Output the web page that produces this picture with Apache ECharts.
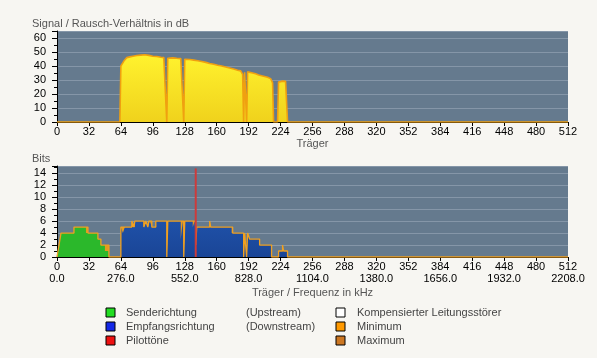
<!DOCTYPE html>
<html><head><meta charset="utf-8">
<script src="https://cdn.jsdelivr.net/npm/echarts@6/dist/echarts.min.js"></script>
<style>html,body{margin:0;padding:0;background:#f7f6f2;}#c{width:597px;height:358px;}</style>
</head><body><div id="c"></div>
<script>
// ---- Data ----
const carrierTicks = [0,32,64,96,128,160,192,224,256,288,320,352,384,416,448,480,512];
const freqTicks = ['0.0','','276.0','','552.0','','828.0','','1104.0','','1380.0','','1656.0','','1932.0','','2208.0'];

// SNR (dB) per carrier
const snrCarriers = [0,63,64,65,67,70,73,76,80,84,88,92,96,100,104,107,108,109,110,111,112,116,120,124,125,126,127,128,129,133,137,141,145,149,153,157,161,165,169,173,177,181,184,185,186,187,188,189,190,191,192,193,196,199,202,205,208,211,213,214,215,216,217,221,222,223,226,229,230,231,512];
const snrValues   = [0,0,40,41,43.5,46,46.5,47,47.5,47.8,48,47.6,47,46.8,46.3,46,45.8,45.5,0,45.5,45.8,45.8,45.5,45.3,45.2,45,0,44.8,45,44.6,44.2,43.8,43.2,42.6,41.8,41.2,40.5,40,39.3,38.6,37.8,37,36.5,36,34,0,35.5,35.5,0,35.8,36,35.6,35,34.4,33.6,33,32.5,32,31.5,31,29.5,28,0,0,28.5,29,29.2,29,28.5,0,0];

// Bits: upstream (current), value holds from carrier to next listed carrier
const usCarriers = [0,1,2,3,4,17,29,41,44,48,52];
const usBits     = [0,1,2,3,4,5,4,3,2,1,0];

// Bits: downstream (current)
const dsCarriers = [64,66,68,78,87,89,91,93,95,99,110,111,124,126,127,128,136,138,139,140,175,187,188,190,191,193,203,215,222,231];
const dsBits     = [5,4,5,6,5,6,5,6,5,6,0,6,3,6,0,6,5,6,2,5,4,0,4,0,4,3,2,0,1,0];

// Bits: maximum
const maxCarriers = [0,1,2,3,4,17,31,41,44,52,64,75,77,78,87,89,91,92,95,99,110,111,127,128,139,140,153,154,176,187,188,190,191,193,203,215,222,226,227,231,512];
const maxBits     = [0,1,2,3,4,5,4,3,2,0,5,6,5,6,5,6,5,6,5,6,0,6,0,6,2,5,6,5,4,0,4,0,4,3,2,0,1,2,1,0,0];

// Pilot tone
const pilotCarriers = [139,139];
const pilotBits     = [0,14.8];

const zip = (a,b) => a.map((v,i)=>[v,b[i]]);

// ---- Chart ----
const FONT = "'Liberation Sans', Arial, sans-serif";
const chart = echarts.init(document.getElementById('c'));
const plotBg = '#657a8e';
const gridLine = '#8596a8';

function xAxis(grid, two) {
  return {
    type:'value', gridIndex:grid, min:0, max:512, interval:32,
    name: two ? 'Träger / Frequenz in kHz' : 'Träger',
    nameLocation:'middle', nameGap: two ? 30 : 15,
    nameTextStyle:{color:'#555', fontSize:11, fontFamily:FONT, verticalAlign:'top'},
    axisLine:{show:true, onZero:false, lineStyle:{color:'#000', width:1}},
    axisTick:{show:true, length:4, lineStyle:{color:'#000'}},
    axisLabel:{color:'#000', fontSize:11, fontFamily:FONT, margin:4, lineHeight:12,
      formatter: v => { const i = carrierTicks.indexOf(v); return two ? (v + '\n' + (i>=0?freqTicks[i]:'')) : String(v); }},
    splitLine:{show:false}
  };
}
function yAxis(grid, max, interval) {
  return {
    type:'value', gridIndex:grid, min:0, max:max, interval:interval,
    axisLine:{show:true, lineStyle:{color:'#000', width:1}},
    axisTick:{show:true, length:5, lineStyle:{color:'#000'}},
    minorTick:{show:true, splitNumber:2, length:3, lineStyle:{color:'#000'}},
    axisLabel:{color:'#000', fontSize:11, fontFamily:FONT, margin:11, showMaxLabel:false},
    splitLine:{show:true, lineStyle:{color:gridLine, width:1}}
  };
}

const legendRows = [312.5, 326.5, 340.5];
function sq(x, y, color) {
  return {type:'rect', shape:{x:x, y:y-4.5, width:9, height:9}, style:{fill:color, stroke:'#000', lineWidth:1}};
}
function txt(x, y, t) {
  return {type:'text', x:x, y:y, style:{text:t, fill:'#444', font:'11px ' + FONT, textVerticalAlign:'middle'}};
}

chart.setOption({
  animation:false,
  backgroundColor:'#f7f6f2',
  grid:[
    {left:57, top:31, width:511, height:91, show:true, backgroundColor:plotBg, borderWidth:0},
    {left:57, top:166, width:511, height:91, show:true, backgroundColor:plotBg, borderWidth:0}
  ],
  xAxis:[xAxis(0,false), xAxis(1,true)],
  yAxis:[yAxis(0,65,10), yAxis(1,15.2,2)],
  graphic:[
    {type:'text', left:32, top:18, style:{text:'Signal / Rausch-Verhältnis in dB', fill:'#555', font:'11px ' + FONT}},
    {type:'text', left:32, top:153, style:{text:'Bits', fill:'#555', font:'11px ' + FONT}},
    sq(106, legendRows[0], '#22dd22'), txt(126, legendRows[0], 'Senderichtung'), txt(246, legendRows[0], '(Upstream)'),
    sq(106, legendRows[1], '#1428e6'), txt(126, legendRows[1], 'Empfangsrichtung'), txt(246, legendRows[1], '(Downstream)'),
    sq(106, legendRows[2], '#ee1111'), txt(126, legendRows[2], 'Pilottöne'),
    sq(336, legendRows[0], '#ffffff'), txt(357, legendRows[0], 'Kompensierter Leitungsstörer'),
    sq(336, legendRows[1], '#ff9900'), txt(357, legendRows[1], 'Minimum'),
    sq(336, legendRows[2], '#cc7722'), txt(357, legendRows[2], 'Maximum')
  ],
  series:[
    {type:'line', xAxisIndex:0, yAxisIndex:0, data:zip(snrCarriers, snrValues), showSymbol:false,
      lineStyle:{color:'#f0a010', width:1.6},
      areaStyle:{opacity:1, color:new echarts.graphic.LinearGradient(0,0,0,1,[{offset:0,color:'#fff22e'},{offset:1,color:'#f0d21c'}])}},
    {type:'line', xAxisIndex:1, yAxisIndex:1, data:zip(maxCarriers, maxBits), step:'end', showSymbol:false,
      lineStyle:{width:0}, areaStyle:{opacity:1, color:'#e49a20'}},
    {type:'line', xAxisIndex:1, yAxisIndex:1, data:zip(usCarriers, usBits), step:'end', showSymbol:false,
      lineStyle:{width:0}, areaStyle:{opacity:1, color:'#2bb82b'}},
    {type:'line', xAxisIndex:1, yAxisIndex:1, data:zip(dsCarriers, dsBits), step:'end', showSymbol:false,
      lineStyle:{width:0}, areaStyle:{opacity:1, color:new echarts.graphic.LinearGradient(0,0,0,1,[{offset:0,color:'#1f51a8'},{offset:1,color:'#1a4596'}])}},
    {type:'line', xAxisIndex:1, yAxisIndex:1, data:zip(maxCarriers, maxBits), step:'end', showSymbol:false,
      lineStyle:{color:'#f0a020', width:1.3}},
    {type:'line', xAxisIndex:1, yAxisIndex:1, data:zip(pilotCarriers, pilotBits), showSymbol:false,
      lineStyle:{color:'#cc3b3b', width:2}}
  ]
});
</script></body></html>
